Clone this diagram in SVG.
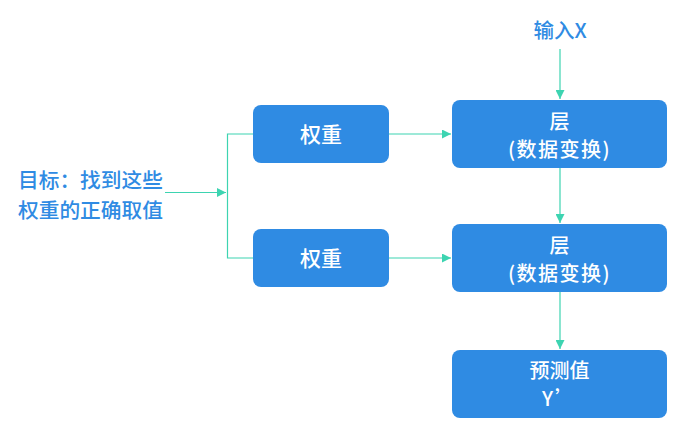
<svg xmlns="http://www.w3.org/2000/svg" width="684" height="437" viewBox="0 0 684 437">
<defs>
<style>
.box{fill:#2f8be3;}
.bt{fill:#ffffff;font-family:"Noto Sans CJK SC","Noto Sans",sans-serif;font-size:20px;font-weight:500;text-anchor:middle;}
.lt{fill:#2f8be3;font-family:"Noto Sans CJK SC","Noto Sans",sans-serif;font-size:20.7px;font-weight:500;}
.ln{fill:none;stroke:#3dd4b1;stroke-width:1.2;}
</style>
<marker id="ah" viewBox="0 0 10 10" refX="10" refY="5" markerWidth="9" markerHeight="9" markerUnits="userSpaceOnUse" orient="auto">
<path d="M0,0 L10,5 L0,10 z" fill="#3dd4b1"/>
</marker>
</defs>
<rect width="684" height="437" fill="#ffffff"/>
<g id="connectors">
<path class="ln" d="M165,192.5 H226" marker-end="url(#ah)"/>
<path class="ln" d="M253,134 H227.5 V258 H253"/>
<path class="ln" d="M389,134 H451" marker-end="url(#ah)"/>
<path class="ln" d="M389,258 H451" marker-end="url(#ah)"/>
<path class="ln" d="M560,49 V99" marker-end="url(#ah)"/>
<path class="ln" d="M560,168 V223" marker-end="url(#ah)"/>
<path class="ln" d="M560,292 V349" marker-end="url(#ah)"/>
</g>
<g id="goal">
<text class="lt" x="18" y="188">目标：找到这些</text>
<text class="lt" x="18" y="218">权重的正确取值</text>
</g>
<g id="inputX">
<text class="lt" x="560" y="38" text-anchor="middle" style="font-size:20.5px">输入X</text>
</g>
<g id="weight1">
<rect class="box" x="253" y="105" width="136" height="58" rx="8"/>
<text class="bt" x="321" y="141.5" style="font-size:21px">权重</text>
</g>
<g id="weight2">
<rect class="box" x="253" y="229" width="136" height="58" rx="8"/>
<text class="bt" x="321" y="265.5" style="font-size:21px">权重</text>
</g>
<g id="layer1">
<rect class="box" x="452" y="100" width="215" height="68" rx="8"/>
<text class="bt" x="559.5" y="129">层</text>
<text class="bt" x="559.5" y="157" letter-spacing="1.5">(数据变换)</text>
</g>
<g id="layer2">
<rect class="box" x="452" y="224" width="215" height="68" rx="8"/>
<text class="bt" x="559.5" y="253">层</text>
<text class="bt" x="559.5" y="281" letter-spacing="1.5">(数据变换)</text>
</g>
<g id="prediction">
<rect class="box" x="452" y="350" width="215" height="68" rx="8"/>
<text class="bt" x="559.5" y="378">预测值</text>
<text class="bt" x="559.5" y="406" letter-spacing="2">Y’</text>
</g>
</svg>
